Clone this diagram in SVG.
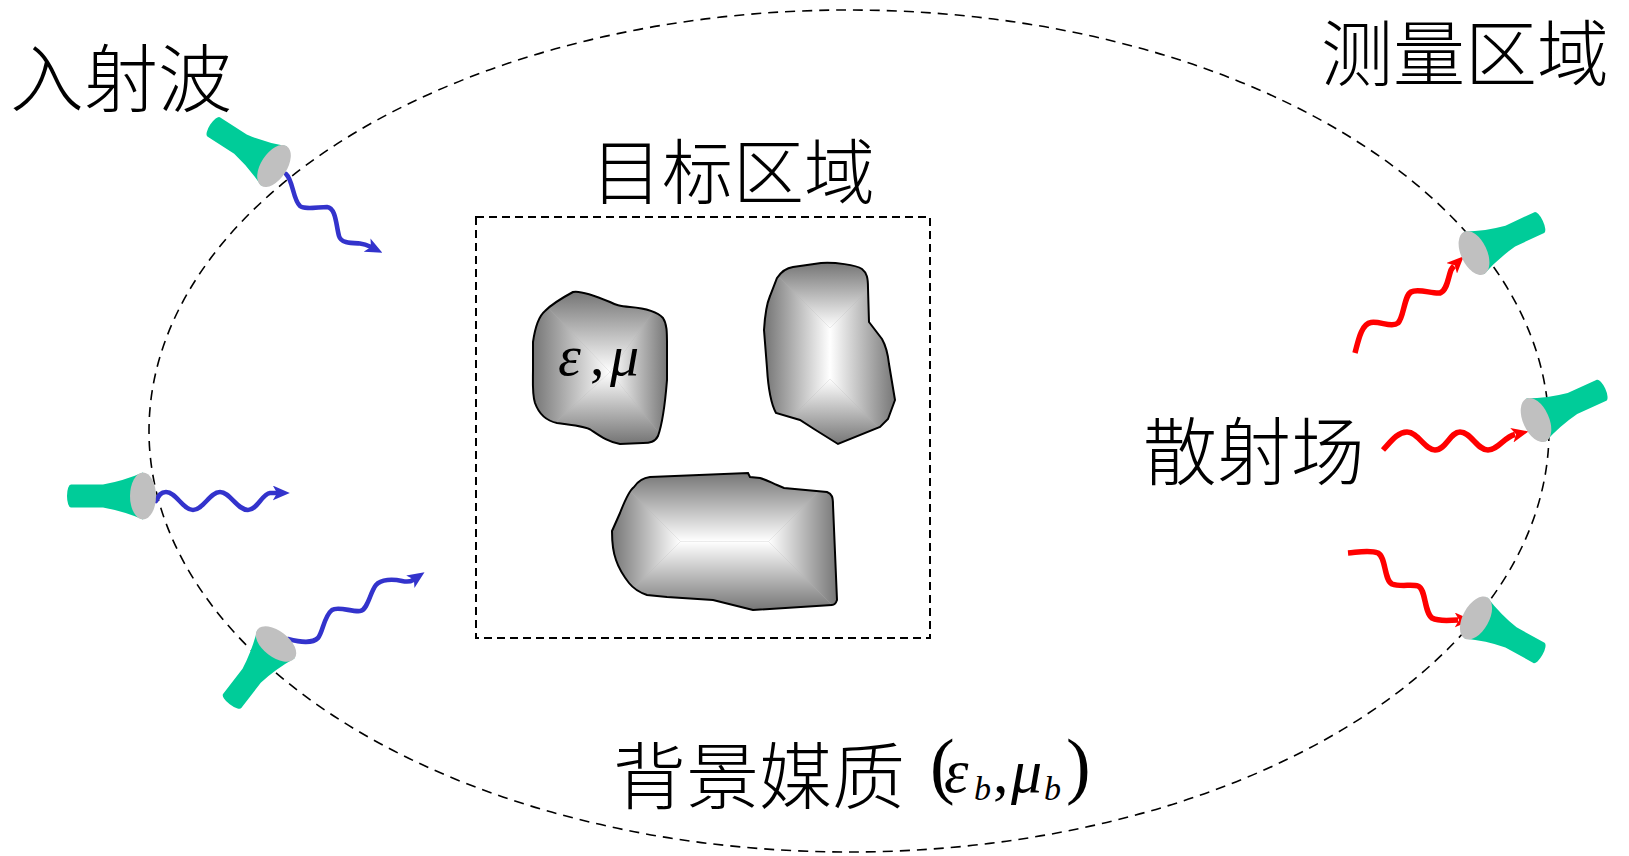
<svg xmlns="http://www.w3.org/2000/svg" xmlns:xlink="http://www.w3.org/1999/xlink" width="1629" height="856" viewBox="0 0 1629 856">
  <style>
    .cjk { font-family: 'Noto Sans CJK SC', sans-serif; font-weight: 300; fill: #000; }
    .math { font-family: 'Liberation Serif', 'Times New Roman', serif; font-weight: normal; fill: #000; }
    .it { font-style: italic; }
    .dash-ellipse { fill: none; stroke: #000; stroke-width: 1.6; stroke-dasharray: 10 7; }
    .dash-rect { fill: none; stroke: #000; stroke-width: 2; stroke-dasharray: 8 5; }
    .wave-in { fill: none; stroke: #3333CC; stroke-width: 4.6; stroke-linecap: round; stroke-linejoin: round; marker-end: url(#arrowBlue); }
    .wave-out { fill: none; stroke: #FF0000; stroke-width: 5.5; stroke-linecap: butt; stroke-linejoin: round; marker-end: url(#arrowRed); }
    .blob-edge { fill: none; stroke: #000; stroke-width: 2; }
    .horn-body { fill: #00CC99; }
    .horn-mouth { fill: #C0C0C0; }
  </style>
  <defs>
    <marker id="arrowBlue" viewBox="0 0 16 14" refX="3" refY="7" markerWidth="17" markerHeight="15" markerUnits="userSpaceOnUse" orient="auto">
      <path d="M0,0 L16,7 L0,14 L4,7 Z" fill="#3333CC"/>
    </marker>
    <marker id="arrowRed" viewBox="0 0 16 14" refX="3" refY="7" markerWidth="17" markerHeight="15" markerUnits="userSpaceOnUse" orient="auto">
      <path d="M0,0 L16,7 L0,14 L4,7 Z" fill="#FF0000"/>
    </marker>

    <!-- edge-to-centre shading, one per direction -->
    <linearGradient id="shadeDown" x1="0" y1="0" x2="0" y2="1">
      <stop offset="0" stop-color="#747474"/><stop offset="1" stop-color="#ffffff"/>
    </linearGradient>
    <linearGradient id="shadeUp" x1="0" y1="1" x2="0" y2="0">
      <stop offset="0" stop-color="#747474"/><stop offset="1" stop-color="#ffffff"/>
    </linearGradient>
    <linearGradient id="shadeRight" x1="0" y1="0" x2="1" y2="0">
      <stop offset="0" stop-color="#747474"/><stop offset="1" stop-color="#ffffff"/>
    </linearGradient>
    <linearGradient id="shadeLeft" x1="1" y1="0" x2="0" y2="0">
      <stop offset="0" stop-color="#747474"/><stop offset="1" stop-color="#ffffff"/>
    </linearGradient>

    <!-- scatterer outlines -->
    <path id="blob1" d="M533,342 C535,328 539,316 545,311 C550,306 560,299 573,292 C580,290 598,297 610,302 C616,305 619,306 630,307 C642,308 656,310 663,318 C667,324 667,332 667,345 L667,380 C665,405 662,425 658,436 C655,442 650,443 643,443 L620,444 C608,442 600,436 591,430 C585,426 570,425 557,423 C547,421 539,414 535,403 C532,394 533,380 533,370 Z"/>
    <path id="blob2" d="M777,278 C781,272 786,268 793,267 L821,263 C835,262 856,265 862,269 C867,273 868,278 868,288 L869,322 L882,339 C886,346 888,355 889,364 L895,400 L888,419 L880,427 L838,444 L814,429 L800,420 L776,413 C770,402 768,385 767,368 L764,330 C765,314 767,303 770,296 Z"/>
    <path id="blob3" d="M612,531 L620,513 C625,500 630,490 634,487 C638,481 642,478 650,477 L748,473 L750,477 L760,478 C767,480 772,483 777,485 L784,488 L827,492 C832,494 833,497 833,505 L837,600 C836,603 835,605 832,605 L753,610 L733,605 L713,600 L667,597 L647,595 C638,592 633,588 629,583 C622,574 618,566 616,560 C613,552 612,542 612,531 Z"/>
    <clipPath id="clip1"><use xlink:href="#blob1"/></clipPath>
    <clipPath id="clip2"><use xlink:href="#blob2"/></clipPath>
    <clipPath id="clip3"><use xlink:href="#blob3"/></clipPath>

    <!-- horn antenna: mouth centred on the origin, axis along +x -->
    <g id="horn">
      <path class="horn-body" d="M-72,-11.5 L-40,-11.5 Q-20,-15 0,-23.5 L0,23.5 Q-20,15 -40,11.5 L-72,11.5 A4,11.5 0 0 1 -72,-11.5 Z"/>
      <ellipse class="horn-mouth" cx="0" cy="0" rx="13" ry="23.5"/>
    </g>
  </defs>

  <rect width="1629" height="856" fill="#ffffff"/>

  <!-- measurement boundary -->
  <g id="measurement-region">
    <ellipse class="dash-ellipse" cx="849" cy="431" rx="700" ry="421"/>
    <text class="cjk" x="1465" y="80" font-size="72" text-anchor="middle">测量区域</text>
  </g>

  <!-- target region -->
  <g id="target-region">
    <rect class="dash-rect" x="476" y="217" width="454" height="421"/>
    <text class="cjk" x="733" y="198" font-size="71" text-anchor="middle">目标区域</text>
  </g>

  <!-- scatterers -->
  <g id="scatterer-1">
    <g clip-path="url(#clip1)">
      <rect x="530" y="289" width="140" height="157" fill="#b0b0b0"/>
      <polygon points="532,291 668,291 610,372" fill="url(#shadeDown)"/>
      <polygon points="532,444 668,444 610,372" fill="url(#shadeUp)"/>
      <polygon points="532,291 610,372 532,444" fill="url(#shadeRight)"/>
      <polygon points="668,291 610,372 668,444" fill="url(#shadeLeft)"/>
    </g>
    <use xlink:href="#blob1" class="blob-edge"/>
    <text class="math" font-size="58"><tspan class="it" x="558" y="375">ε</tspan><tspan x="590" y="375">,</tspan><tspan class="it" x="610" y="375">μ</tspan></text>
  </g>

  <g id="scatterer-2">
    <g clip-path="url(#clip2)">
      <rect x="762" y="260" width="136" height="187" fill="#b0b0b0"/>
      <polygon points="764,262 896,262 830,328" fill="url(#shadeDown)"/>
      <polygon points="764,445 896,445 830,379" fill="url(#shadeUp)"/>
      <polygon points="764,262 830,328 830,379 764,445" fill="url(#shadeRight)"/>
      <polygon points="896,262 830,328 830,379 896,445" fill="url(#shadeLeft)"/>
    </g>
    <use xlink:href="#blob2" class="blob-edge"/>
  </g>

  <g id="scatterer-3">
    <g clip-path="url(#clip3)">
      <rect x="609" y="470" width="231" height="143" fill="#b0b0b0"/>
      <polygon points="611,472 838,472 768.5,541.5 680.5,541.5" fill="url(#shadeDown)"/>
      <polygon points="611,611 838,611 768.5,541.5 680.5,541.5" fill="url(#shadeUp)"/>
      <polygon points="611,472 680.5,541.5 611,611" fill="url(#shadeRight)"/>
      <polygon points="838,472 768.5,541.5 838,611" fill="url(#shadeLeft)"/>
    </g>
    <use xlink:href="#blob3" class="blob-edge"/>
  </g>

  <!-- incident and scattered waves -->
  <g id="connectors">
    <path class="wave-in" d="M286,174 C293,180 293,200 300,206 C305,210 318,207 327,207 C336,208 336,225 339,236 C341,243 350,243 360,243.5 C364,244 367,245 370,246.5"/>
    <path class="wave-in" d="M156,501 C159,495 161,492 166,492 C176,492 183,510 193,510 C203,510 210,492 220,492 C230,492 237,510 248,510 C257,510 262,494 270,493 C272,493 274,493 276,493"/>
    <path class="wave-in" d="M288,639 C300,642 312,644 318,638 C323,632 324,616 332,610 C338,606 352,612 360,611 C368,610 370,592 376,585 C381,579 393,579 402,581 C407,582 410,582 413,580"/>
    <path class="wave-out" d="M1355,353 C1358,342 1361,324 1371,322.5 C1380,321 1392,328 1398,323 C1404,317 1404,296 1411,292 C1418,288 1432,294 1440,293 C1447,291 1448,278 1451,270 C1452,268 1453,267 1454,266"/>
    <path class="wave-out" d="M1383,450 C1392,440 1398,432 1407,432 C1418,432 1425,450 1435,450 C1446,450 1450,432 1460,432 C1471,432 1477,450 1488,450 C1498,450 1504,437 1515,434.5"/>
    <path class="wave-out" d="M1348,553 C1360,552 1370,550 1378,553 C1386,557 1384,580 1392,584 C1400,587 1412,584 1418,586 C1426,589 1424,612 1432,618 C1440,622 1450,620 1458,620"/>
  </g>

  <!-- transmitting horns -->
  <g id="horn-tx-1"><use xlink:href="#horn" transform="translate(274,166) rotate(33)"/></g>
  <g id="horn-tx-2"><use xlink:href="#horn" transform="translate(143,496)"/></g>
  <g id="horn-tx-3"><use xlink:href="#horn" transform="translate(276,644) rotate(-52.5)"/></g>

  <!-- receiving horns -->
  <g id="horn-rx-1"><use xlink:href="#horn" transform="translate(1474,253) rotate(155)"/></g>
  <g id="horn-rx-2"><use xlink:href="#horn" transform="translate(1536,420) rotate(155.6)"/></g>
  <g id="horn-rx-3"><use xlink:href="#horn" transform="translate(1476,618) rotate(209)"/></g>

  <!-- labels -->
  <g id="label-incident">
    <text class="cjk" x="121" y="106" font-size="74" text-anchor="middle">入射波</text>
  </g>
  <g id="label-scattered">
    <text class="cjk" x="1254" y="479" font-size="74" text-anchor="middle">散射场</text>
  </g>
  <g id="label-background">
    <text class="cjk" font-size="73"><tspan x="613" y="803">背景媒质</tspan><tspan class="math" x="930" y="790" font-size="74">(</tspan><tspan class="math it" x="944" y="792" font-size="62">ε</tspan><tspan class="math it" x="974" y="800" font-size="34">b</tspan><tspan class="math" x="993" y="792" font-size="62">,</tspan><tspan class="math it" x="1011" y="792" font-size="62">μ</tspan><tspan class="math it" x="1044" y="800" font-size="34">b</tspan><tspan class="math" x="1066" y="790" font-size="74">)</tspan></text>
  </g>
</svg>
